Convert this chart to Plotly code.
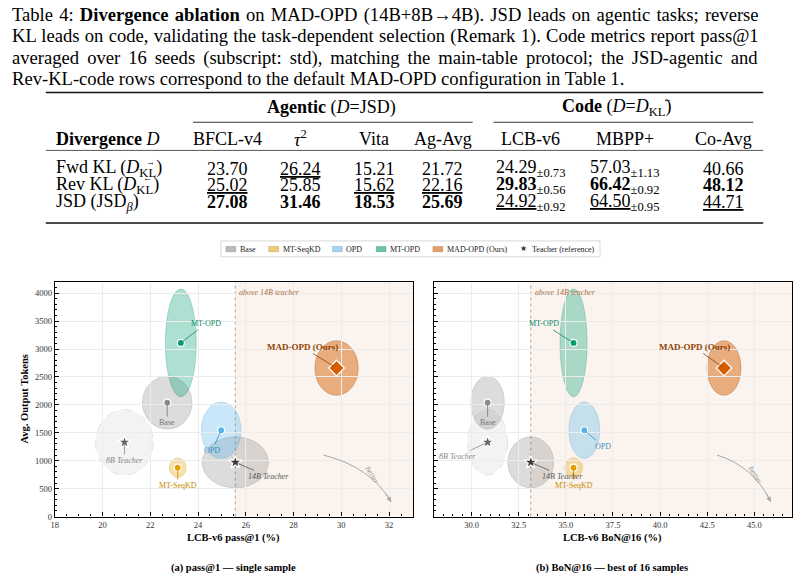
import plotly.graph_objects as go

# ------------------------------------------------------------------ data
methods = ["Base", "MT-SeqKD", "OPD", "MT-OPD", "MAD-OPD (Ours)", "8B Teacher", "14B Teacher"]
pass1 = [22.71, 23.15, 24.97, 23.28, 29.80, 20.92, 25.56]
bon16 = [30.85, 35.41, 35.98, 35.41, 43.39, 30.85, 33.14]
tokens = [2040, 875, 1545, 3110, 2660, 1330, 970]
pass1_spread = [1.04, 0.35, 0.83, 0.65, 0.91, 1.21, 1.39]
bon16_spread = [0.89, 0.48, 0.82, 0.72, 0.90, 1.06, 1.22]
tokens_spread = [475, 175, 505, 965, 490, 588, 458]

table_rows = ["Fwd KL", "Rev KL", "JSD"]
bfcl = [23.70, 25.02, 27.08]
tau2 = [26.24, 25.85, 31.46]
vita = [15.21, 15.62, 18.53]
ag_avg = [21.72, 22.16, 25.69]
lcb = [24.29, 29.83, 24.92]
lcb_std = [0.73, 0.56, 0.92]
mbpp = [57.03, 66.42, 64.50]
mbpp_std = [1.13, 0.92, 0.95]
co_avg = [40.66, 48.12, 44.71]

caption_lines = [
    "Table 4: <b>Divergence ablation</b> on MAD-OPD (14B+8B→4B). JSD leads on agentic tasks; reverse",
    "KL leads on code, validating the task-dependent selection (Remark 1). Code metrics report pass@1",
    "averaged over 16 seeds (subscript: std), matching the main-table protocol; the JSD-agentic and",
    "Rev-KL-code rows correspond to the default MAD-OPD configuration in Table 1.",
]
caption_spacing = [1.5, 0.6, 3.4, 0.0]

# ------------------------------------------------------------------ styles
W, H = 805, 584
SERIF = "Liberation Serif"


def px(x):
    return x / W


def py(y):
    return 1 - y / H


point_color = ["#8c8c8c", "#e69f00", "#56b4e9", "#009e73", "#d55e00", "#666666", "#3a3a3a"]
symbols = ["circle", "circle", "circle", "circle", "diamond", "star", "star"]
msize = [7, 7, 7, 7, 12, 10, 10]
ell_fill = ["rgba(128,128,128,0.28)", "rgba(230,159,0,0.32)", "rgba(86,180,233,0.32)",
            "rgba(0,158,115,0.32)", "rgba(213,94,0,0.48)", "rgba(160,160,160,0.13)",
            "rgba(110,110,110,0.24)"]
ell_line = ["rgba(120,120,120,0.3)", "rgba(200,140,0,0.3)", "rgba(60,150,210,0.3)",
            "rgba(0,130,95,0.3)", "rgba(150,70,10,0.4)", "rgba(160,160,160,0.3)",
            "rgba(110,110,110,0.25)"]
ell_dash = ["solid", "solid", "solid", "solid", "solid", "dash", "solid"]
label_color = ["#777777", "#c98a00", "#3b8ec2", "#0b8a66", "#8f3f00", "#888888", "#555555"]
label_text = ["Base", "MT-SeqKD", "OPD", "MT-OPD", "<b>MAD-OPD (Ours)</b>",
              "<i>8B Teacher</i>", "<i>14B Teacher</i>"]
label_size = [8, 8, 8, 8, 9, 8, 8]
offsets_a = [(0, 20), (0, 18), (-9, 20), (25, -19), (-34, -21), (0, 18), (33, 14)]
offsets_b = [(0, 20), (0, 18), (19, 16), (-30, -19), (-30, -21), (-30, 14), (32, 14)]

fig = go.Figure()
shapes = []
ann = []

PLOT_TOP, PLOT_BOT = 284, 521
panels = [("x", "y", pass1, pass1_spread, offsets_a), ("x2", "y2", bon16, bon16_spread, offsets_b)]
teacher_idx = methods.index("14B Teacher")

for xr, yr, xs, xsp, offs in panels:
    # shaded region above the 14B teacher
    shapes.append(dict(type="rect", xref=xr, yref="paper", x0=xs[teacher_idx], x1=60,
                       y0=py(PLOT_BOT), y1=py(PLOT_TOP), fillcolor="#fbf4ee", line_width=0, layer="below"))
    shapes.append(dict(type="line", xref=xr, yref="paper", x0=xs[teacher_idx], x1=xs[teacher_idx],
                       y0=py(PLOT_BOT), y1=py(PLOT_TOP), line=dict(color="#9a9a9a", width=0.9, dash="dot"),
                       layer="below"))
    ann.append(dict(xref=xr, yref="paper", x=xs[teacher_idx], y=py(295), xshift=2,
                    xanchor="left", yanchor="middle", showarrow=False,
                    text="<i>above 14B teacher</i>", font=dict(family=SERIF, size=8, color="#a8714a")))
    # ellipses
    order = [5, 6, 0, 3, 2, 1, 4]
    for i in order:
        shapes.append(dict(type="circle", xref=xr, yref=yr, layer="below",
                           x0=xs[i] - xsp[i], x1=xs[i] + xsp[i],
                           y0=tokens[i] - tokens_spread[i], y1=tokens[i] + tokens_spread[i],
                           fillcolor=ell_fill[i],
                           line=dict(color=ell_line[i], width=0.8, dash=ell_dash[i])))
    # points
    for i in range(len(methods)):
        fig.add_trace(go.Scatter(x=[xs[i]], y=[tokens[i]], xaxis=xr, yaxis=yr, mode="markers",
                                 marker=dict(symbol=symbols[i], size=msize[i], color=point_color[i],
                                             line=dict(color="white", width=1.2)),
                                 showlegend=False, name=methods[i]))
        ann.append(dict(xref=xr, yref=yr, x=xs[i], y=tokens[i], ax=offs[i][0], ay=offs[i][1],
                        text=label_text[i], showarrow=True, arrowhead=0, arrowwidth=0.8,
                        arrowcolor=label_color[i], standoff=2,
                        font=dict(family=SERIF, size=label_size[i], color=label_color[i])))

# "better" curved arrows (decoration, in pixel layout positions)
for (sx, sy, cx, cy, ex, ey, tx, ty) in [(321, 459, 368, 470.6, 389.3, 506.3, 370, 480),
                                         (716.7, 459, 753.7, 470.6, 770.7, 506.3, 755, 480)]:
    shapes.append(dict(type="path", xref="paper", yref="paper",
                       path=f"M {px(sx):.5f},{py(sy):.5f} Q {px(cx):.5f},{py(cy):.5f} {px(ex):.5f},{py(ey):.5f}",
                       line=dict(color="#a8a8a8", width=1)))
    t = 0.85
    bx = (1 - t) ** 2 * sx + 2 * (1 - t) * t * cx + t * t * ex
    by = (1 - t) ** 2 * sy + 2 * (1 - t) * t * cy + t * t * ey
    ann.append(dict(xref="paper", yref="paper", x=px(ex), y=py(ey),
                    ax=bx - ex, ay=by - ey, text="", showarrow=True, arrowhead=2, arrowsize=1,
                    arrowwidth=1, arrowcolor="#a8a8a8"))
    ann.append(dict(xref="paper", yref="paper", x=px(tx), y=py(ty), xanchor="center", yanchor="middle",
                    text="<i>better</i>", showarrow=False, textangle=58,
                    font=dict(family=SERIF, size=8, color="#999999")))

# ------------------------------------------------------------------ axes
ydom = [py(PLOT_BOT), py(PLOT_TOP)]
common = dict(showline=True, linecolor="black", linewidth=1.2, mirror=True, ticks="inside",
              ticklen=4, tickwidth=1, tickcolor="black", showgrid=True, gridcolor="#ececec",
              gridwidth=1, zeroline=False, tickfont=dict(family=SERIF, size=8.5, color="#333333"))
minor_x = dict(dtick=0.5, ticks="inside", ticklen=2, tickcolor="black", showgrid=False)
minor_y = dict(dtick=100, ticks="inside", ticklen=2, tickcolor="black", showgrid=False)
fig.update_layout(
    xaxis=dict(domain=[px(51), px(411)], range=[18, 33], dtick=2, tick0=18, anchor="y",
               minor=minor_x, **common),
    yaxis=dict(domain=ydom, range=[0, 4208], dtick=500, anchor="x", minor=minor_y, **common),
    xaxis2=dict(domain=[px(432), px(792)], range=[28, 47], dtick=2.5, tick0=30, tickformat=".1f",
                anchor="y2", minor=minor_x, **common),
    yaxis2=dict(domain=ydom, range=[0, 4208], dtick=500, anchor="x2", showticklabels=False,
                minor=minor_y, **common),
)


def pann(x, y, text, size=10.5, angle=0, anchor="center", color="black"):
    ann.append(dict(xref="paper", yref="paper", x=px(x), y=py(y), xanchor=anchor, yanchor="middle",
                    text=text, textangle=angle, showarrow=False,
                    font=dict(family=SERIF, size=size, color=color)))


# axis titles and sub-captions
pann(21, 402, "<b>Avg. Output Tokens</b>", angle=-90)
pann(231, 543, "<b>LCB-v6 pass@1 (%)</b>")
pann(612, 543, "<b>LCB-v6 BoN@16 (%)</b>")
pann(231, 573, "<b>(a) pass@1 — single sample</b>")
pann(611.5, 573, "<b>(b) BoN@16 — best of 16 samples</b>")

# legend (manual)
shapes.append(dict(type="rect", xref="paper", yref="paper", x0=px(218), x1=px(599), y0=py(259), y1=py(243),
                   fillcolor="white", line=dict(color="#cfcfcf", width=0.8)))
leg_fill = ["rgba(128,128,128,0.55)", "rgba(230,159,0,0.55)", "rgba(86,180,233,0.55)",
            "rgba(0,158,115,0.6)", "rgba(213,94,0,0.6)"]
leg_rect_x = [223, 266, 330, 374, 431]
for i in range(5):
    shapes.append(dict(type="rect", xref="paper", yref="paper", x0=px(leg_rect_x[i]), x1=px(leg_rect_x[i] + 10),
                       y0=py(254), y1=py(248.5), fillcolor=leg_fill[i], line=dict(color="rgba(0,0,0,0.25)", width=0.5)))
    pann(leg_rect_x[i] + 12, 251.3, methods[i], size=8, anchor="left", color="#222222")
pann(522, 251, "★", size=8, color="#333333")
pann(529, 251.3, "Teacher (reference)", size=8, anchor="left", color="#222222")

# ------------------------------------------------------------------ caption
cap_y = [15, 36.5, 58, 79.5]
for line, yy, sp in zip(caption_lines, cap_y, caption_spacing):
    pann(6, yy, f'<span style="word-spacing:{sp}px">{line}</span>', size=18.6, anchor="left")

# ------------------------------------------------------------------ table
TF = 18
col_x = [225, 298, 372, 441, 529, 624, 723]
row_y = [170, 187, 204]
hdr_y = 140
grp_y = 108
LEFT = 50

pann(329, grp_y, "<b>Agentic</b> (<i>D</i>=JSD)", size=TF)
pann(616, grp_y, "<b>Code</b> (<i>D</i>=<i>D</i><sub>KL</sub>)", size=TF)
pann(667, grp_y - 8, "←", size=9)
headers = ["BFCL-v4", "<i>τ</i><sup>2</sup>", "Vita", "Ag-Avg", "LCB-v6", "MBPP+", "Co-Avg"]
pann(LEFT, hdr_y, "<b>Divergence</b> <i>D</i>", size=TF, anchor="left")
for x, h in zip(col_x, headers):
    pann(x, hdr_y, h, size=TF)

row_labels = ["Fwd KL (<i>D</i><sub>KL</sub>)", "Rev KL (<i>D</i><sub>KL</sub>)",
              "JSD (JSD<sub><i>β</i></sub>)"]
arrows = ["→", "←", None]
arrow_x = [147, 144, None]
for r in range(3):
    pann(LEFT, row_y[r], row_labels[r], size=TF, anchor="left")
    if arrows[r]:
        pann(arrow_x[r], row_y[r] - 7, arrows[r], size=9)


def fmt(vals, r, std=None):
    ranked = sorted(vals, reverse=True)
    s = f"{vals[r]:.2f}"
    if vals[r] == ranked[0]:
        s = f"<b>{s}</b>"
    elif vals[r] == ranked[1]:
        s = f"<u>{s}</u>"
    if std is not None:
        s += f"<sub>±{std[r]:.2f}</sub>"
    return s


cols = [(bfcl, None), (tau2, None), (vita, None), (ag_avg, None), (lcb, lcb_std), (mbpp, mbpp_std), (co_avg, None)]
for c, (vals, std) in enumerate(cols):
    for r in range(3):
        pann(col_x[c], row_y[r], fmt(vals, r, std), size=TF)

# rules
for (x0, x1, y, w, col) in [(42, 763, 93.3, 1.6, "#111111"), (190, 471, 123.3, 1.0, "#333333"),
                            (492, 753, 123.3, 1.0, "#333333"), (42, 763, 151.7, 1.0, "#555555"),
                            (42, 763, 225, 1.6, "#111111")]:
    shapes.append(dict(type="line", xref="paper", yref="paper", x0=px(x0), x1=px(x1), y0=py(y), y1=py(y),
                       line=dict(color=col, width=w)))

fig.update_layout(width=W, height=H, margin=dict(l=0, r=0, t=0, b=0), paper_bgcolor="white",
                  plot_bgcolor="white", shapes=shapes, annotations=ann, showlegend=False)
fig.write_html("out.html")
